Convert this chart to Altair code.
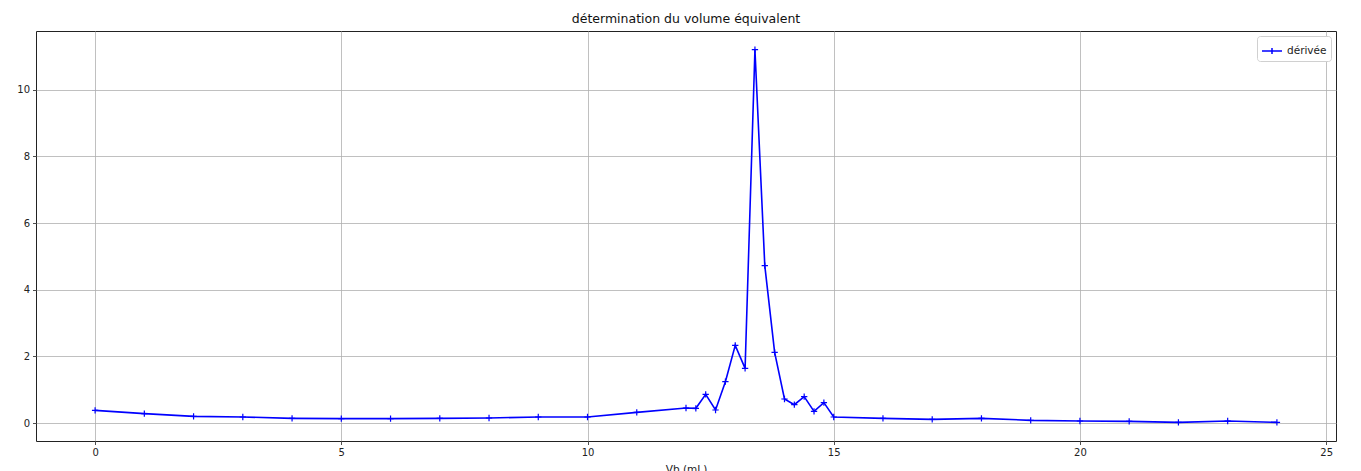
import altair as alt
import pandas as pd

vb = [0, 1, 2, 3, 4, 5, 6, 7, 8, 9, 10, 11, 12, 12.2, 12.4, 12.6, 12.8, 13.0,
      13.2, 13.4, 13.6, 13.8, 14.0, 14.2, 14.4, 14.6, 14.8, 15, 16, 17, 18,
      19, 20, 21, 22, 23, 24]
derivee = [0.38, 0.28, 0.20, 0.18, 0.14, 0.13, 0.13, 0.14, 0.15, 0.18, 0.18,
           0.32, 0.45, 0.44, 0.86, 0.39, 1.24, 2.33, 1.64, 11.2, 4.72, 2.12,
           0.72, 0.55, 0.79, 0.35, 0.61, 0.18, 0.14, 0.11, 0.14, 0.08, 0.06,
           0.05, 0.02, 0.06, 0.02]
serie = "dérivée"

df = pd.DataFrame({"Vb": vb, "d": derivee, "serie": serie})

FONT = "DejaVu Sans"
BLUE = "#0000ff"

x = alt.X("Vb:Q", title="Vb (mL)",
          scale=alt.Scale(domain=[-1.2, 25.2], nice=False, zero=False),
          axis=alt.Axis(values=[0, 5, 10, 15, 20, 25], format="d"))
y = alt.Y("d:Q", title=None,
          scale=alt.Scale(domain=[-0.54, 11.76], nice=False, zero=False),
          axis=alt.Axis(values=[0, 2, 4, 6, 8, 10], format="d"))

line = alt.Chart(df).mark_line(strokeWidth=1.6).encode(
    x=x, y=y,
    color=alt.Color("serie:N", scale=alt.Scale(domain=[serie], range=[BLUE]),
                    legend=alt.Legend(
                        title=None, orient="top-right", offset=5,
                        symbolType="M-1,0H1M0,-0.3V0.3",
                        symbolSize=400, symbolStrokeWidth=1.5,
                        labelFontSize=10.5, labelFont=FONT, labelColor="#222",
                        strokeColor="#d0d0d0", fillColor="white",
                        cornerRadius=3, padding=4, symbolOffset=0)),
)

pts = alt.Chart(df).mark_point(
    shape="M-1,0H1M0,-1V1", size=40, filled=False, strokeWidth=1.2,
    color=BLUE, opacity=1,
).encode(x=x, y=y)

chart = alt.layer(line, pts).properties(
    width=1300, height=410,
    title=alt.TitleParams("détermination du volume équivalent", font=FONT,
                          fontSize=12.5, fontWeight="normal", color="#111",
                          offset=6),
    autosize=alt.AutoSizeParams(type="none"),
    padding={"left": 28, "top": 23, "right": 17, "bottom": 40},
).configure_view(
    stroke="#222", strokeWidth=1,
).configure_axis(
    grid=True, gridColor="#b0b0b0", gridWidth=0.8,
    domain=False, tickColor="#222", tickSize=3.5, tickWidth=0.8,
    labelFont=FONT, labelFontSize=10, labelColor="#222", labelPadding=3,
    titleFont=FONT, titleFontSize=10.5, titleFontWeight="normal",
    titleColor="#222",
).configure_axisX(titlePadding=7)

chart.save("out.html", embed_options={"renderer": "svg", "actions": False})
